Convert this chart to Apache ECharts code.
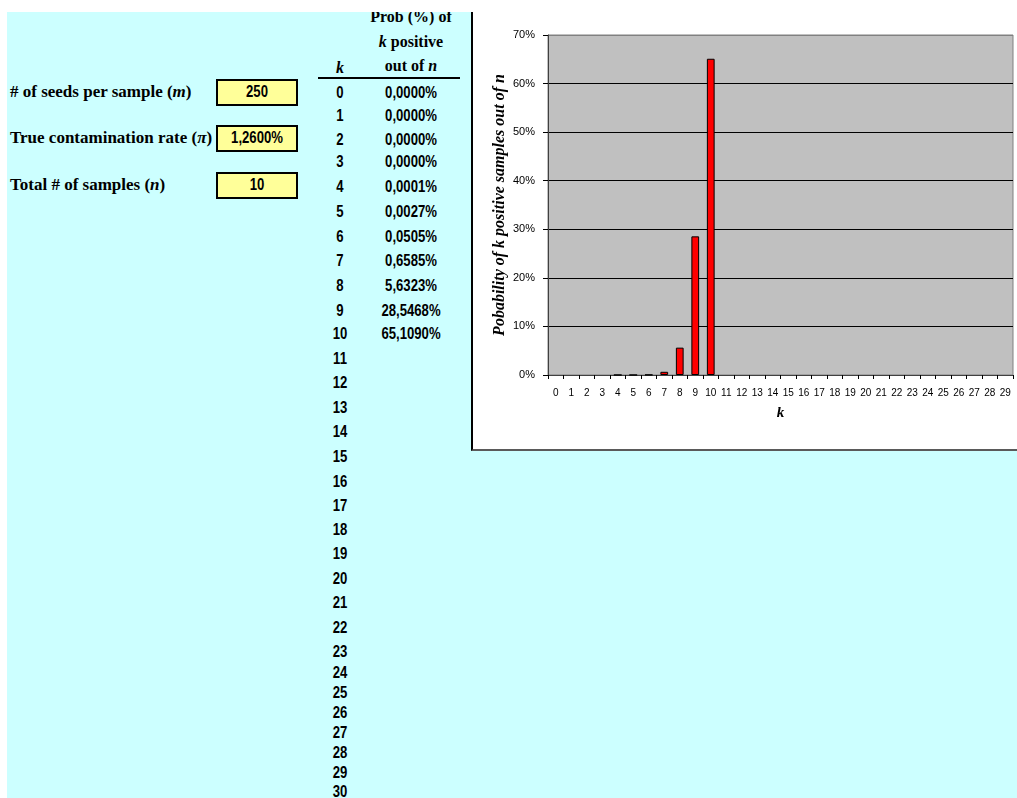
<!DOCTYPE html>
<html>
<head>
<meta charset="utf-8">
<script src="https://cdn.jsdelivr.net/npm/echarts@6/dist/echarts.min.js"></script>
<style>
	body { margin: 0; width: 1017px; height: 798px; background: #fff; position: relative; overflow: hidden; }
	#sheet { position: absolute; left: 7px; top: 12px; width: 1010px; height: 786px; background: #ccffff; overflow: hidden; }
	.t { position: absolute; white-space: nowrap; transform: translate(-50%, -50%); }
	.n { transform: translate(-50%, -50%) scaleX(0.82); }
	.lbl { position: absolute; white-space: nowrap; transform: translateY(-50%); font-family: 'Liberation Serif', 'DejaVu Serif', serif; font-weight: bold; font-size: 17px; color: #000; }
	.num { font-family: 'Liberation Sans', Arial, sans-serif; font-weight: bold; font-size: 16px; color: #000; }
	.hdr { font-family: 'Liberation Serif', 'DejaVu Serif', serif; font-weight: bold; font-size: 16px; color: #000; }
	.box { position: absolute; width: 78px; height: 23px; background: #ffff99; border: 2px solid #000; box-sizing: content-box; }
	#grafica { position: absolute; left: 471px; top: 12px; width: 544px; height: 437px; background: #fff; border-left: 2px solid #000; border-bottom: 2px solid #5a5a5a; }
</style>
</head>
<body>
<div id="sheet"></div>
<div id="grafica"></div>
<script>
// Input parameters (left block)
let etiquetas = ['# of seeds per sample (<i>m</i>)', 'True contamination rate (<i>&pi;</i>)', 'Total # of samples (<i>n</i>)'];
let entradas = ['250', '1,2600%', '10'];

// Table: k and probability (%) of k positive out of n
let kValores = [];
for (let i = 0; i <= 30; i++) kValores.push(i);
let probabilidades = [0.0000, 0.0000, 0.0000, 0.0000, 0.0001, 0.0027, 0.0505, 0.6585, 5.6323, 28.5468, 65.1090];

// Chart categories 0..29
let categorias = [];
for (let i = 0; i < 30; i++) categorias.push(String(i));

// ---- spreadsheet part ----
var sheet = document.getElementById('sheet');
var offX = 7, offY = 12;

function addText(html, x, y, cls) {
	var d = document.createElement('div');
	d.className = cls;
	d.innerHTML = html;
	d.style.left = (x - offX) + 'px';
	d.style.top = (y - offY) + 'px';
	sheet.appendChild(d);
	return d;
}

var filasEntrada = [92, 138, 185];
etiquetas.forEach(function (txt, i) {
	addText(txt, 10, filasEntrada[i], 'lbl');
	var b = document.createElement('div');
	b.className = 'box';
	b.style.left = (216 - offX) + 'px';
	b.style.top = (filasEntrada[i] - 13 - offY) + 'px';
	sheet.appendChild(b);
	addText(entradas[i], 257, filasEntrada[i], 't n num');
});

// table header
addText('Prob (%) of', 411, 17, 't hdr');
addText('<i>k</i> positive', 411, 42, 't hdr');
addText('out of <i>n</i>', 411, 66, 't hdr');
addText('<i>k</i>', 340, 68, 't hdr');
var linea = document.createElement('div');
linea.style.cssText = 'position:absolute;height:2px;background:#000;';
linea.style.left = (318 - offX) + 'px';
linea.style.top = (77 - offY) + 'px';
linea.style.width = '142px';
sheet.appendChild(linea);

var filasY = [93, 116, 140, 162, 187, 212, 237, 261, 286, 311, 334, 359, 383, 408, 432, 457, 482, 506, 530, 554, 579, 603, 628, 652, 673, 693, 713, 733, 753, 773, 792];
kValores.forEach(function (k, i) {
	addText(String(k), 340, filasY[i], 't n num');
	if (i < probabilidades.length) {
		addText(probabilidades[i].toFixed(4).replace('.', ',') + '%', 411, filasY[i], 't n num');
	}
});

// ---- chart ----
var serieGrafico = categorias.map(function (c, i) {
	var v = probabilidades[i];
	return (v === undefined || v === 0) ? null : v;
});

var grafico = echarts.init(document.getElementById('grafica'));
var option = {
	animation: false,
	textStyle: { fontFamily: 'Liberation Sans, Arial, sans-serif' },
	grid: {
		left: 75, right: 4, top: 23, bottom: 74,
		show: true,
		backgroundColor: '#c0c0c0',
		borderColor: '#808080',
		borderWidth: 1
	},
	xAxis: {
		type: 'category',
		data: categorias,
		boundaryGap: true,
		name: 'k',
		nameLocation: 'middle',
		nameGap: 31,
		nameMoveOverlap: false,
		nameTextStyle: { fontFamily: 'Liberation Serif, serif', fontStyle: 'italic', fontWeight: 'bold', fontSize: 15, color: '#000' },
		axisLine: { lineStyle: { color: '#404040', width: 1 } },
		axisTick: { show: true, length: 4, alignWithLabel: false, lineStyle: { color: '#000' } },
		axisLabel: { interval: 0, margin: 13, fontSize: 10, color: '#000', fontFamily: 'Liberation Sans, Arial, sans-serif' },
		splitLine: { show: false }
	},
	yAxis: {
		type: 'value',
		min: 0, max: 70, interval: 10,
		name: 'Pobability of k positive samples out of n',
		nameLocation: 'middle',
		nameRotate: 90,
		nameGap: 40,
		nameMoveOverlap: false,
		nameTextStyle: { fontFamily: 'Liberation Serif, serif', fontStyle: 'italic', fontWeight: 'bold', fontSize: 16, color: '#000' },
		axisLine: { show: true, lineStyle: { color: '#404040' } },
		axisTick: { show: true, length: 5, lineStyle: { color: '#000' } },
		axisLabel: { formatter: '{value}%', fontSize: 11, color: '#000', margin: 13, fontFamily: 'Liberation Sans, Arial, sans-serif' },
		splitLine: {
			show: true,
			lineStyle: { color: ['#404040', '#000', '#000', '#000', '#000', '#000', '#000', '#808080'], width: 1 }
		}
	},
	series: [{
		type: 'bar',
		data: serieGrafico,
		barWidth: '50%',
		itemStyle: { color: '#ff0000', borderColor: '#000', borderWidth: 1 }
	}]
};
grafico.setOption(option);
</script>
</body>
</html>
